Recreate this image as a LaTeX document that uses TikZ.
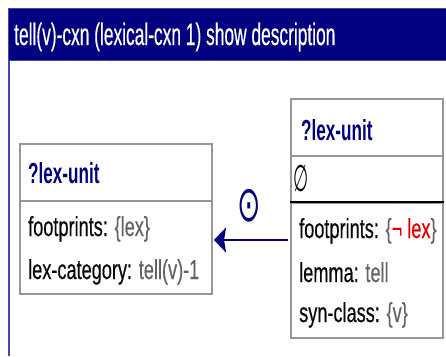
\documentclass[tikz,border=0pt]{standalone}
\usepackage{fontspec}
\setmainfont{Liberation Sans}
\newfontfamily\titlefont[FakeStretch=0.56,FakeBold=0.4]{Liberation Sans}
\newfontfamily\headfont[FakeStretch=0.59]{Liberation Sans Bold}
\newfontfamily\bodyfont[FakeStretch=0.66,FakeBold=0.4]{Liberation Sans}
\newfontfamily\symfont{DejaVu Sans}
\usetikzlibrary{arrows.meta}
\definecolor{navyc}{RGB}{0,0,128}
\definecolor{framec}{RGB}{70,70,165}
\definecolor{boxgray}{RGB}{150,150,150}
\definecolor{valgray}{RGB}{100,100,100}
\definecolor{redc}{RGB}{225,0,0}
\definecolor{txt}{RGB}{10,10,10}
\tikzset{
  boxpart/.style={draw=boxgray, line width=2pt, rectangle, inner sep=0pt},
  ttl/.style={anchor=base west, inner sep=0pt, text=white, font=\titlefont\fontsize{31}{34}\selectfont},
  hdr/.style={anchor=base west, inner sep=0pt, text=navyc, font=\headfont\fontsize{29}{32}\selectfont},
  row/.style={anchor=base west, inner sep=0pt, text=txt, font=\bodyfont\fontsize{27.5}{30}\selectfont},
  arr/.style={draw=navyc, line width=2.6pt, -{Stealth[length=12pt,width=25pt,inset=2pt]}},
}
\newcommand{\vl}[1]{\textcolor{valgray}{#1}}
\begin{document}
\begin{tikzpicture}[x=1pt,y=-1pt]
\useasboundingbox (0,0) rectangle (446,356);
% frame
\fill[navyc, draw=framec, line width=1pt] (8,8) rectangle (447,60);
\draw[framec, line width=2pt] (9,60) -- (9,356);
\node[ttl] (title) at (14,45) {tell(v)-cxn (lexical-cxn 1) show description};
% left box
\node[boxpart, minimum width=192pt, minimum height=57pt] (lhead) at (116,172.5) {};
\node[boxpart, minimum width=192pt, minimum height=93pt] (lbody) at (116,247.5) {};
\node[hdr] (lh) at (28,183) {?lex-unit};
\node[row] (lr1) at (28,236) {footprints: \vl{\{lex\}}};
\node[row] (lr2) at (28,279) {lex-category: \vl{tell(v)-1}};
% right box
\node[boxpart, minimum width=152pt, minimum height=57pt] (rhead) at (367,127.5) {};
\node[boxpart, minimum width=152pt, minimum height=47pt] (rempty) at (367,179.5) {};
\node[boxpart, minimum width=152pt, minimum height=135pt] (rbody) at (367,270.5) {};
\draw[black, line width=2.6pt] (rbody.north west) -- (rbody.north east);
\node[hdr] (rh) at (301,140) {?lex-unit};
\node[row, font=\symfont\fontsize{37}{40}\selectfont] (re) at (293,191) {\scalebox{0.47}[1]{∅}};
\node[row] (rr1) at (299,238) {footprints: \vl{\{}\textcolor{redc}{¬ lex}\vl{\}}};
\node[row] (rr2) at (299,282) {lemma: \vl{tell}};
\node[row] (rr3) at (299,322) {syn-class: \vl{\{v\}}};
% connector
\coordinate (ah) at (0,240);
\draw[arr, shorten >=1pt, shorten <=2pt] (rbody.west |- ah) -- (lbody.east |- ah);
\node[inner sep=0pt, text=navyc, font=\symfont\fontsize{50}{54}\selectfont] (dot) at (249,206) {\scalebox{0.56}[1]{⊙}};
\end{tikzpicture}
\end{document}
